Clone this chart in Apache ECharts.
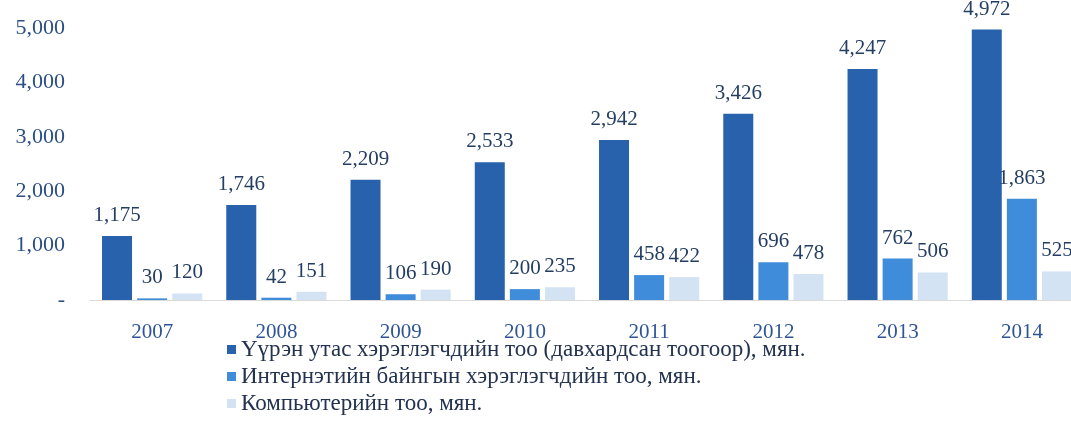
<!DOCTYPE html>
<html>
<head>
<meta charset="utf-8">
<script src="https://cdn.jsdelivr.net/npm/echarts@6/dist/echarts.min.js"></script>
<style>html,body{margin:0;padding:0;background:#fff;}#c{width:1071px;height:438px;}</style>
</head>
<body>
<div id="c"></div>
<script>
var years = ['2007','2008','2009','2010','2011','2012','2013','2014'];
var seriesNames = [
  'Үүрэн утас хэрэглэгчдийн тоо (давхардсан тоогоор), мян.',
  'Интернэтийн байнгын хэрэглэгчдийн тоо, мян.',
  'Компьютерийн тоо, мян.'
];
var mobileUsers = [1175, 1746, 2209, 2533, 2942, 3426, 4247, 4972];
var internetUsers = [30, 42, 106, 200, 458, 696, 762, 1863];
var computers = [120, 151, 190, 235, 422, 478, 506, 525];
var yTicks = [0, 1000, 2000, 3000, 4000, 5000];

var colors = ['#2862AC', '#3F8CDA', '#D3E3F4'];
var serif = 'Liberation Serif';
function fmt(v){ return v === 0 ? '-' : String(v).replace(/\B(?=(\d{3})+(?!\d))/g, ','); }

var chart = echarts.init(document.getElementById('c'));
function mk(name, data, color){
  return {
    name: name, type: 'bar', data: data, barWidth: 30, barGap: '17%',
    itemStyle: {color: color},
    label: {show: true, position: 'top', distance: 10,
      formatter: function(p){ return fmt(p.value); },
      fontFamily: serif, fontSize: 21, color: '#243E63'}
  };
}
chart.setOption({
  animation: false,
  color: colors,
  grid: {left: 90, width: 994, top: 28, bottom: 138, containLabel: false, outerBoundsMode: 'none'},
  legend: {
    orient: 'vertical', left: 222, top: 333, icon: 'rect',
    itemWidth: 9, itemHeight: 9, itemGap: 4,
    textStyle: {fontFamily: serif, fontSize: 23, color: '#22324F', lineHeight: 23}
  },
  xAxis: {
    type: 'category', data: years,
    axisLine: {show: true, lineStyle: {color: '#D9D9D9', width: 1}},
    axisTick: {show: false},
    axisLabel: {fontFamily: serif, fontSize: 21, color: '#2F5597', margin: 22}
  },
  yAxis: {
    type: 'value', min: yTicks[0], max: yTicks[yTicks.length-1], interval: 1000,
    splitLine: {show: false}, axisLine: {show: false}, axisTick: {show: false},
    axisLabel: {fontFamily: serif, fontSize: 22, color: '#2B4F85', margin: 25,
      formatter: function(v){ return fmt(v); }}
  },
  series: [
    mk(seriesNames[0], mobileUsers, colors[0]),
    mk(seriesNames[1], internetUsers, colors[1]),
    mk(seriesNames[2], computers, colors[2])
  ]
});
</script>
</body>
</html>
